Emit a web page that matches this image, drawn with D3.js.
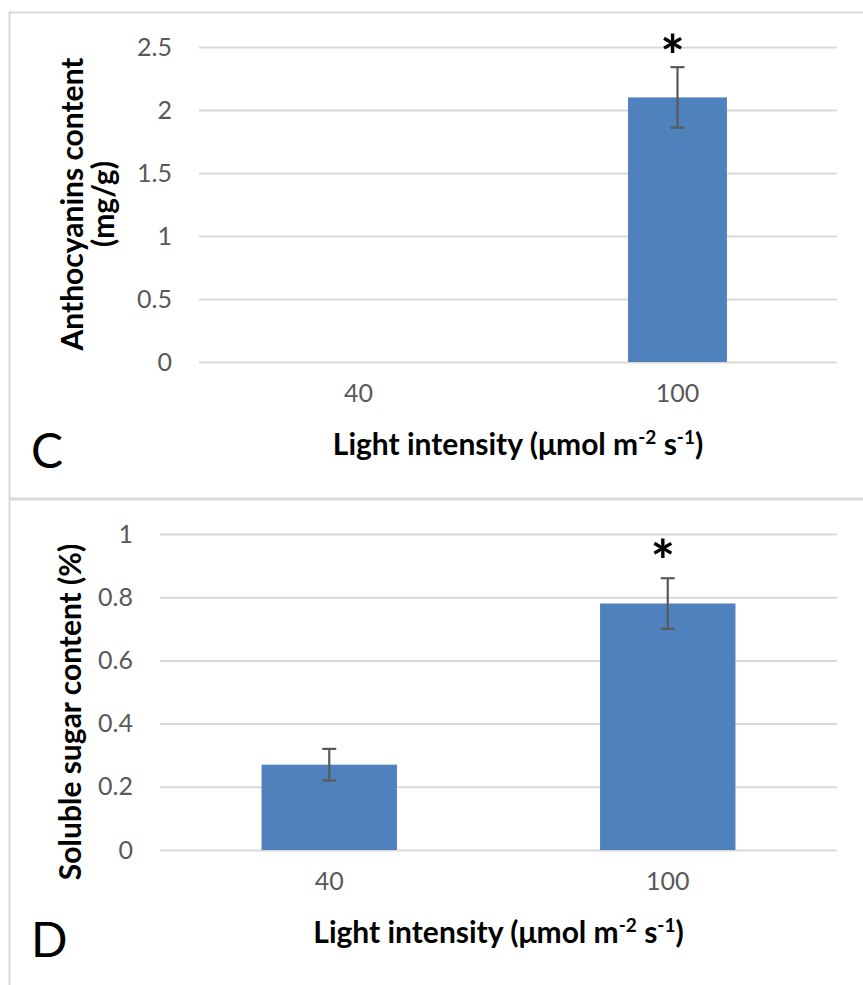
<!DOCTYPE html>
<html>
<head>
<meta charset="utf-8">
<script src="https://cdn.jsdelivr.net/npm/d3@7"></script>
<style>
  body { margin: 0; background: #fff; }
  svg { display: block; font-family: Lato, "Open Sans", Arial, sans-serif; }
</style>
</head>
<body>
<div id="chart"></div>
<script>
// ---- data ----
const categories = ["40", "100"];

const anthocyanins = [0, 2.1];
const anthocyaninsErr = [0, 0.24];
const anthocyaninsSig = ["", "*"];
const anthocyaninsTicks = [0, 0.5, 1, 1.5, 2, 2.5];

const sugar = [0.27, 0.78];
const sugarErr = [0.05, 0.08];
const sugarSig = ["", "*"];
const sugarTicks = [0, 0.2, 0.4, 0.6, 0.8, 1];

const W = 863, H = 985;
const barColor = "#4F81BD";
const gridColor = "#D9D9D9";
const textGray = "#595959";

const svg = d3.select("#chart").append("svg")
    .attr("width", W)
    .attr("height", H);

svg.append("rect").attr("width", W).attr("height", H).attr("fill", "#fff");

// panel frames
svg.append("rect")
    .attr("x", 9.5).attr("y", 12.5)
    .attr("width", 900).attr("height", 486)
    .attr("fill", "none").attr("stroke", gridColor).attr("stroke-width", 2);
svg.append("rect")
    .attr("x", 9.5).attr("y", 499.5)
    .attr("width", 900).attr("height", 600)
    .attr("fill", "none").attr("stroke", gridColor).attr("stroke-width", 2);

function drawPanel(p) {
    const y = d3.scaleLinear().domain(p.domain).range([p.bottom, p.top]);
    const x = d3.scaleBand().domain(categories).range([p.left, p.right])
        .paddingInner(p.pad).paddingOuter(p.pad / 2);

    const g = svg.append("g");

    // gridlines + y ticks
    const yAxis = g.append("g")
        .attr("transform", `translate(${p.left},0)`)
        .call(d3.axisLeft(y).tickValues(p.ticks).tickSize(-(p.right - p.left)).tickPadding(27)
            .tickFormat(d => String(d)));
    yAxis.select(".domain").remove();
    yAxis.selectAll("line").attr("stroke", gridColor).attr("stroke-width", 2);
    yAxis.selectAll("text")
        .attr("fill", textGray)
        .style("font-size", "25px")
        .style("font-family", "Lato, sans-serif");

    // x ticks
    const xAxis = g.append("g")
        .attr("transform", `translate(0,${p.bottom})`)
        .call(d3.axisBottom(x).tickSize(0).tickPadding(22));
    xAxis.select(".domain").remove();
    xAxis.selectAll("text")
        .attr("fill", textGray)
        .style("font-size", "25px")
        .style("font-family", "Lato, sans-serif");

    const rows = categories.map((c, i) => ({ c, v: p.values[i], e: p.errs[i], s: p.sig[i] }));

    // bars
    g.selectAll(".bar").data(rows.filter(d => d.v > 0)).enter()
        .append("rect")
        .attr("x", d => x(d.c))
        .attr("width", x.bandwidth())
        .attr("y", d => y(d.v))
        .attr("height", d => y(0) - y(d.v))
        .attr("fill", barColor);

    // error bars
    const eb = g.selectAll(".err").data(rows.filter(d => d.e > 0)).enter().append("g")
        .attr("stroke", textGray).attr("stroke-width", 2.2);
    const cx = d => x(d.c) + x.bandwidth() / 2;
    eb.append("line")
        .attr("x1", cx).attr("x2", cx)
        .attr("y1", d => y(d.v + d.e)).attr("y2", d => y(d.v - d.e));
    eb.append("line")
        .attr("x1", d => cx(d) - 7).attr("x2", d => cx(d) + 7)
        .attr("y1", d => y(d.v + d.e)).attr("y2", d => y(d.v + d.e));
    eb.append("line")
        .attr("x1", d => cx(d) - 7).attr("x2", d => cx(d) + 7)
        .attr("y1", d => y(d.v - d.e)).attr("y2", d => y(d.v - d.e));

    // significance marks
    g.selectAll(".sig").data(rows.filter(d => d.s)).enter()
        .append("text")
        .attr("x", d => cx(d) - 5)
        .attr("y", d => y(d.v + d.e) - p.starGap)
        .attr("text-anchor", "middle")
        .style("font-size", "58px")
        .style("font-weight", "bold")
        .attr("fill", "#000")
        .text(d => d.s);

    // y title
    const yt = g.append("text")
        .attr("transform", `translate(${p.yTitleX},${p.yTitleY}) rotate(-90)`)
        .attr("text-anchor", "middle")
        .style("font-size", "30px")
        .style("font-weight", "bold")
        .attr("fill", "#000");
    p.yTitle.forEach((t, i) => {
        yt.append("tspan").attr("x", 0).attr("dy", i === 0 ? 0 : 31).text(t);
    });

    // x title
    const xt = g.append("text")
        .attr("x", (p.left + p.right) / 2)
        .attr("y", p.xTitleY)
        .attr("text-anchor", "middle")
        .style("font-size", "30px")
        .style("font-weight", "bold")
        .attr("fill", "#000");
    xt.append("tspan").text("Light intensity (μmol m");
    xt.append("tspan").attr("dy", -11).style("font-size", "19px").text("-2");
    xt.append("tspan").attr("dy", 11).text(" s");
    xt.append("tspan").attr("dy", -11).style("font-size", "19px").text("-1");
    xt.append("tspan").attr("dy", 11).text(")");

    // panel letter
    g.append("text")
        .attr("x", 31).attr("y", p.letterY)
        .style("font-size", "48px")
        .attr("fill", "#000")
        .text(p.letter);
}

drawPanel({
    letter: "C", letterY: 468,
    values: anthocyanins, errs: anthocyaninsErr, sig: anthocyaninsSig,
    domain: [0, 2.5], ticks: anthocyaninsTicks,
    left: 199, right: 837, top: 47, bottom: 362, pad: 0.69,
    yTitle: ["Anthocyanins content", "(mg/g)"], yTitleX: 83, yTitleY: 204,
    xTitleY: 455, starGap: -10
});

drawPanel({
    letter: "D", letterY: 957,
    values: sugar, errs: sugarErr, sig: sugarSig,
    domain: [0, 1], ticks: sugarTicks,
    left: 160, right: 837, top: 534, bottom: 850, pad: 0.6,
    yTitle: ["Soluble sugar content (%)"], yTitleX: 81, yTitleY: 712,
    xTitleY: 943, starGap: -4
});
</script>
</body>
</html>
